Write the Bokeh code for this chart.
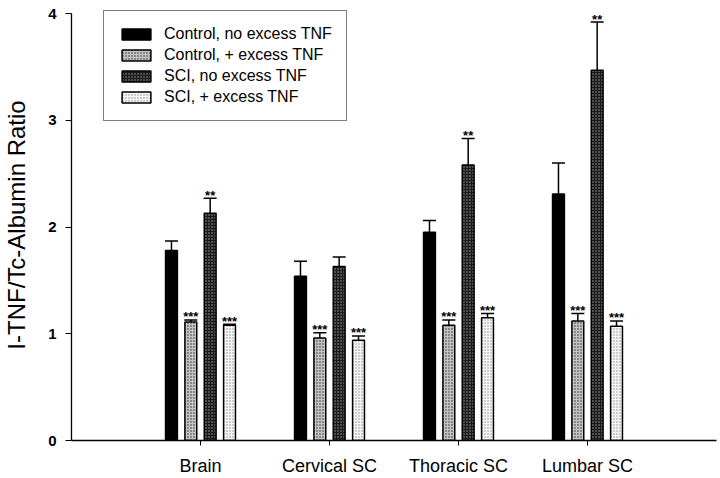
from bokeh.plotting import figure
from bokeh.models import Whisker, TeeHead, ColumnDataSource, FixedTicker, Legend, LegendItem, Range1d
from bokeh.core.properties import value
from bokeh.embed import file_html
from bokeh.resources import INLINE

categories = ["Brain", "Cervical SC", "Thoracic SC", "Lumbar SC"]
series = ["Control, no excess TNF", "Control, + excess TNF", "SCI, no excess TNF", "SCI, + excess TNF"]

ctrl_no = [1.78, 1.54, 1.95, 2.31]
ctrl_no_err = [0.09, 0.14, 0.11, 0.29]
ctrl_plus = [1.11, 0.96, 1.08, 1.12]
ctrl_plus_err = [0.02, 0.05, 0.05, 0.07]
sci_no = [2.13, 1.63, 2.58, 3.47]
sci_no_err = [0.14, 0.09, 0.25, 0.45]
sci_plus = [1.08, 0.94, 1.15, 1.07]
sci_plus_err = [0.01, 0.04, 0.04, 0.05]

sig_ctrl_no = ["", "", "", ""]
sig_ctrl_plus = ["***", "***", "***", "***"]
sig_sci_no = ["**", "", "**", "**"]
sig_sci_plus = ["***", "***", "***", "***"]

y_ticks = [0, 1, 2, 3, 4]

values = [ctrl_no, ctrl_plus, sci_no, sci_plus]
errors = [ctrl_no_err, ctrl_plus_err, sci_no_err, sci_plus_err]
sigs = [sig_ctrl_no, sig_ctrl_plus, sig_sci_no, sig_sci_plus]

offsets = [-0.225, -0.075, 0.075, 0.225]
styles = [
    dict(fill_color="black", hatch_pattern=None),
    dict(fill_color="#c4c4c4", hatch_pattern="dot", hatch_color="#2a2a2a", hatch_scale=3, hatch_weight=1),
    dict(fill_color="#1a1a1a", hatch_pattern="dot", hatch_color="#a0a0a0", hatch_scale=3, hatch_weight=1),
    dict(fill_color="#f6f6f6", hatch_pattern="dot", hatch_color="#8c8c8c", hatch_scale=3, hatch_weight=1),
]

FONT = "Liberation Sans"

p = figure(width=720, height=478, output_backend="svg", toolbar_location=None,
           x_range=Range1d(0, 5), y_range=Range1d(0, 4.038),
           min_border_left=71, min_border_right=4, min_border_top=9, min_border_bottom=38)
p.outline_line_color = None
p.xgrid.visible = False
p.ygrid.visible = False
p.background_fill_color = "white"

items = []
for k in range(4):
    xs = [i + 1 + offsets[k] for i in range(len(categories))]
    tops = values[k]
    uppers = [v + e for v, e in zip(values[k], errors[k])]
    src = ColumnDataSource(dict(x=xs, top=tops, upper=uppers, sig=sigs[k]))
    st = styles[k]
    kw = dict(fill_color=st["fill_color"], line_color="black", line_width=1.5)
    if st["hatch_pattern"]:
        kw.update(hatch_pattern=st["hatch_pattern"], hatch_color=st["hatch_color"],
                  hatch_scale=st["hatch_scale"], hatch_weight=st["hatch_weight"])
    r = p.vbar(x="x", top="top", bottom=0, width=0.092, source=src, **kw)
    items.append(LegendItem(label=series[k], renderers=[r]))
    w = Whisker(base="x", lower="top", upper="upper", source=src, dimension="height",
                line_color="black", line_width=1.5,
                upper_head=TeeHead(size=13, line_color="black", line_width=1.5),
                lower_head=None)
    p.add_layout(w)
    p.text(x="x", y="upper", text="sig", source=src, text_align="center",
           text_baseline="alphabetic", y_offset=-3, text_font=value(FONT),
           text_font_size="13px", text_font_style="bold", text_color="black")

legend = Legend(items=items, location=(32, 319), orientation="vertical",
                label_text_font=FONT, label_text_font_size="16px", label_text_color="black",
                glyph_width=36, glyph_height=14, label_height=14, spacing=3, padding=14,
                label_standoff=10, margin=0,
                border_line_color="black", border_line_width=1.5, background_fill_alpha=1)
p.add_layout(legend, "center")

# axes
p.xaxis.ticker = FixedTicker(ticks=[i + 1 for i in range(len(categories))])
p.xaxis.major_label_overrides = {i + 1: c for i, c in enumerate(categories)}
p.xaxis.major_label_text_font = FONT
p.xaxis.major_label_text_font_size = "18px"
p.xaxis.major_label_text_color = "black"
p.xaxis.major_label_standoff = 10
p.xaxis.major_tick_out = 5
p.xaxis.major_tick_in = 0
p.xaxis.minor_tick_line_color = None
p.xaxis.axis_line_width = 1.3
p.xaxis.axis_line_color = "black"
p.xaxis.major_tick_line_color = "black"

p.yaxis.ticker = FixedTicker(ticks=y_ticks)
p.yaxis.bounds = (0, 4)
p.yaxis.major_label_text_font = FONT
p.yaxis.major_label_text_font_size = "15px"
p.yaxis.major_label_text_font_style = "bold"
p.yaxis.major_label_text_color = "black"
p.yaxis.major_label_standoff = 9
p.yaxis.major_tick_out = 6
p.yaxis.major_tick_in = 0
p.yaxis.minor_tick_line_color = None
p.yaxis.axis_line_width = 1.3
p.yaxis.axis_line_color = "black"
p.yaxis.major_tick_line_color = "black"
p.yaxis.axis_label = "I-TNF/Tc-Albumin Ratio"
p.yaxis.axis_label_text_font = FONT
p.yaxis.axis_label_text_font_size = "24px"
p.yaxis.axis_label_text_font_style = "normal"
p.yaxis.axis_label_text_color = "black"
p.yaxis.axis_label_standoff = 15

open("out.html", "w").write(file_html(p, INLINE))
